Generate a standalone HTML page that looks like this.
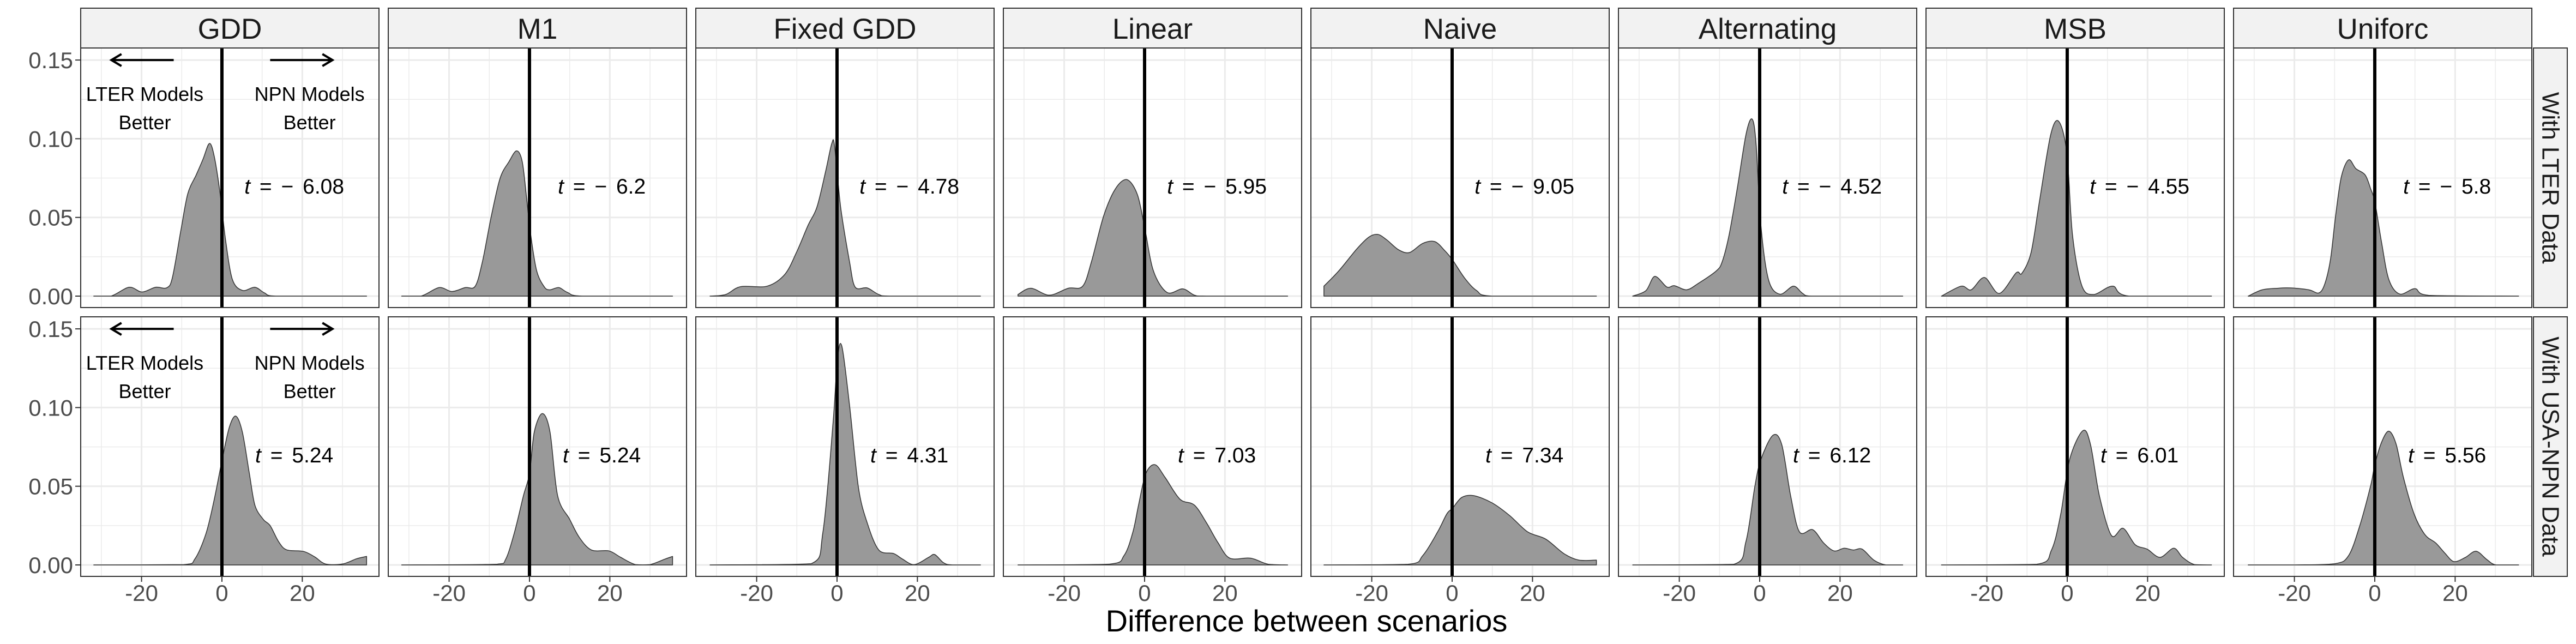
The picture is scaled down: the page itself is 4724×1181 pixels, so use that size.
<!DOCTYPE html>
<html><head><meta charset="utf-8"><style>
html,body{margin:0;padding:0;background:#fff;}
svg{display:block;font-family:"Liberation Sans",Arial,sans-serif;}
</style></head><body>
<svg id="chart" width="4724" height="1181" viewBox="0 0 4724 1181" xmlns="http://www.w3.org/2000/svg"></svg>
<script>
// ---- data ----
const models = ["GDD","M1","Fixed GDD","Linear","Naive","Alternating","MSB","Uniforc"];
const rowLabels = ["With LTER Data","With USA-NPN Data"];
const tLabelsLter = ["t = \u2212 6.08","t = \u2212 6.2","t = \u2212 4.78","t = \u2212 5.95","t = \u2212 9.05","t = \u2212 4.52","t = \u2212 4.55","t = \u2212 5.8"];
const tLabelsNpn = ["t = 5.24","t = 5.24","t = 4.31","t = 7.03","t = 7.34","t = 6.12","t = 6.01","t = 5.56"];
const xTicks = [-20,0,20];
const xTickLabels = ["-20","0","20"];
const xMinor = [-30,-10,10,30];
const yTicks = [0,0.05,0.10,0.15];
const yTickLabels = ["0.00","0.05","0.10","0.15"];
const yMinor = [0.025,0.075,0.125];

// row 1 (LTER)
const gddLterX = [-31.9,-27.6,-23.1,-19.9,-16.5,-13.7,-12.3,-10.2,-8.5,-6.4,-4.7,-3.1,-1.9,-0.5,0.9,2.6,5.1,8.2,10.6,13.4,36];
const gddLterY = [0,0,0.0056,0.0026,0.0056,0.0053,0.012,0.042,0.065,0.077,0.087,0.097,0.0886,0.066,0.0357,0.0106,0.0036,0.0056,0.002,0,0];
const m1LterX = [-31.8,-27,-22.5,-19.3,-16,-13.5,-11.7,-9.5,-7.3,-5.1,-3.2,-1.8,-0.7,0.3,1.8,3.7,5.1,7.3,9.5,13.2,35.6];
const m1LterY = [0,0,0.0054,0.0029,0.0054,0.0063,0.022,0.0508,0.075,0.0854,0.0923,0.0854,0.062,0.039,0.016,0.0058,0.004,0.0054,0.0023,0,0];
const fixedLterX = [-31.6,-27.7,-24,-17.4,-13,-10.1,-7.2,-5,-2.8,-1.3,-0.6,0.9,3.1,4.5,7.5,10.4,13.3,35.7];
const fixedLterY = [0,0.001,0.006,0.0063,0.0138,0.0277,0.045,0.0565,0.0796,0.097,0.095,0.0565,0.022,0.0058,0.0052,0.001,0,0];
const linearLterX = [-31.5,-28.3,-23.7,-19,-15.4,-13.2,-10.2,-7.3,-4.4,-1.8,0,2.2,5.6,9.5,12.4,15.4,35.6];
const linearLterY = [0.001,0.005,0.0006,0.005,0.0063,0.022,0.0508,0.068,0.074,0.0646,0.0438,0.016,0.0023,0.0046,0.0006,0,0];
const naiveLterX = [-31.9,-28.2,-23.7,-20.7,-18.5,-16.3,-13.3,-10.6,-7.3,-4.3,-1.8,0.1,3.1,6.1,9.9,35.9];
const naiveLterY = [0.0063,0.016,0.030,0.0375,0.0392,0.0358,0.0294,0.0277,0.0335,0.0346,0.0288,0.023,0.0115,0.0035,0,0];
const altLterX = [-31.6,-28.3,-26.1,-23.1,-21.2,-18.2,-15.3,-10.8,-9.3,-7.6,-5.6,-3.4,-1.9,-0.9,0.3,2.2,5,8.4,10.7,12.9,35.6];
const altLterY = [0,0.0035,0.0125,0.0058,0.0066,0.004,0.008,0.016,0.022,0.039,0.068,0.1027,0.1125,0.097,0.045,0.0104,0.0012,0.0063,0.0017,0,0];
const msbLterX = [-31.3,-26.4,-23.9,-20.6,-16.9,-12.7,-11.3,-9,-6.8,-4.1,-2.1,-0.1,1.3,3.6,6.5,11.3,15.4,35.9];
const msbLterY = [0,0.0063,0.004,0.0118,0.0017,0.0148,0.0144,0.0277,0.062,0.1027,0.111,0.0911,0.039,0.0069,0.001,0.0063,0,0];
const uniLterX = [-31.5,-28,-24,-21,-16.4,-13.9,-12.4,-11,-9.7,-8.3,-6.5,-4.7,-2.4,-1,0,1.7,3.5,6.2,10,13.4,35.8];
const uniLterY = [0,0.004,0.005,0.0052,0.004,0.002,0.008,0.0236,0.052,0.076,0.0866,0.081,0.077,0.068,0.060,0.034,0.0105,0.0013,0.0047,0.0005,0];

// row 2 (USA-NPN)
const gddNpnX = [-31.9,-9.5,-6.7,-3.96,-1.9,0.2,1.9,3.5,5.1,6.8,8.2,10.3,12,14.1,16.1,20.3,23.1,25.8,30,33.5,36];
const gddNpnY = [0,0.0002,0.0039,0.020,0.0418,0.0688,0.088,0.0945,0.0842,0.0585,0.038,0.0289,0.025,0.0148,0.0096,0.0086,0.0051,0.0006,0.0006,0.0039,0.0054];
const m1NpnX = [-31.8,-8,-5.9,-3.7,-1.5,0,1.2,3.2,5.1,7,10,12.4,15.4,19.8,22.7,26.4,30,33.7,35.6];
const m1NpnY = [0,0.0005,0.0037,0.021,0.044,0.058,0.0845,0.0962,0.0845,0.044,0.029,0.0175,0.0095,0.0089,0.0048,0.0002,0.0002,0.0037,0.0054];
const fixedNpnX = [-31.6,-6.4,-3.5,-1,0.1,1.2,3.1,5.3,7.5,10.4,14.1,16.3,19.2,22.8,24.3,26.5,28.7,35.7];
const fixedNpnY = [0,0.0008,0.021,0.09,0.1306,0.139,0.1018,0.0498,0.0268,0.0095,0.0072,0.0037,0.0002,0.0048,0.0066,0.0014,0,0];
const linearNpnX = [-31.5,-8.8,-5.1,-2.9,-1.5,0.3,2.6,5.1,8.8,12.4,15.4,18.3,21.2,26.4,30.7,35.6];
const linearNpnY = [0,0.0005,0.006,0.021,0.038,0.058,0.0637,0.0556,0.0418,0.038,0.0268,0.014,0.0043,0.0043,0.0005,0];
const naiveNpnX = [-31.9,-11,-7.3,-3.6,-1.3,0.1,2.4,5.4,9.9,14.3,18.8,23.3,27.8,31.5,35.9];
const naiveNpnY = [0,0.0004,0.006,0.021,0.0325,0.036,0.0429,0.044,0.0395,0.0314,0.021,0.0164,0.0072,0.0031,0.0031];
const altNpnX = [-31.6,-6.4,-3.4,-1.2,0.3,3.3,5.5,7.7,9.9,13.2,15.9,18.5,21,23.3,25.5,28.4,31.4,35.6];
const altNpnY = [0,0.0004,0.015,0.0498,0.067,0.0824,0.0764,0.044,0.021,0.0224,0.014,0.0089,0.0106,0.0095,0.01,0.0031,0,0];
const msbNpnX = [-31.3,-7.6,-3.9,-1.6,0.6,3.9,5.8,8,11,13.9,16.9,19.9,23.1,26.5,28.7,31.7,35.9];
const msbNpnY = [0,0.0004,0.0095,0.0325,0.067,0.0853,0.0764,0.044,0.0187,0.0233,0.0129,0.01,0.0048,0.0106,0.0048,0.0002,0];
const uniNpnX = [-31.5,-20,-9.9,-6.5,-3.8,-1,0,1.7,3.5,5.3,7.1,9.8,12.5,15.2,17.5,19.7,22.5,25.2,27.9,30.2,35.8];
const uniNpnY = [0,0,0.0008,0.006,0.0244,0.0506,0.0637,0.078,0.085,0.0769,0.0559,0.0323,0.0192,0.0139,0.0073,0.0021,0.0047,0.0087,0.0034,0,0];

const rowsX = [[gddLterX,m1LterX,fixedLterX,linearLterX,naiveLterX,altLterX,msbLterX,uniLterX],
               [gddNpnX,m1NpnX,fixedNpnX,linearNpnX,naiveNpnX,altNpnX,msbNpnX,uniNpnX]];
const rowsY = [[gddLterY,m1LterY,fixedLterY,linearLterY,naiveLterY,altLterY,msbLterY,uniLterY],
               [gddNpnY,m1NpnY,fixedNpnY,linearNpnY,naiveNpnY,altNpnY,msbNpnY,uniNpnY]];
const tLabels = [tLabelsLter, tLabelsNpn];

// ---- layout ----
const NS = "http://www.w3.org/2000/svg";
const svg = document.getElementById("chart");
const P0 = 148, PSTEP = 564, PW = 547;
const ROWTOP = [88, 581], PH = 476;
const XMIN = -35.14, XPX = 7.37;
const YZERO = 455, YPX = 2886;
function xs(i, v){ return P0 + PSTEP*i + (v - XMIN)*XPX; }
function ys(r, v){ return ROWTOP[r] + YZERO - v*YPX; }
function mk(tag, attrs, parent){
  const e = document.createElementNS(NS, tag);
  for (const k in attrs) e.setAttribute(k, attrs[k]);
  (parent||svg).appendChild(e);
  return e;
}
function smoothPath(pts, base){
  // Catmull-Rom to Bezier, control points clamped to baseline
  let d = `L${pts[0][0].toFixed(1)},${pts[0][1].toFixed(1)}`;
  for (let k=0;k<pts.length-1;k++){
    const p0 = pts[Math.max(0,k-1)], p1 = pts[k], p2 = pts[k+1], p3 = pts[Math.min(pts.length-1,k+2)];
    const t = 0.16;
    let c1x = p1[0] + (p2[0]-p0[0])*t, c1y = p1[1] + (p2[1]-p0[1])*t;
    let c2x = p2[0] - (p3[0]-p1[0])*t, c2y = p2[1] - (p3[1]-p1[1])*t;
    c1x = Math.min(Math.max(c1x,p1[0]),p2[0]); c2x = Math.min(Math.max(c2x,p1[0]),p2[0]);
    c1y = Math.min(c1y, base); c2y = Math.min(c2y, base);
    d += ` C${c1x.toFixed(1)},${c1y.toFixed(1)} ${c2x.toFixed(1)},${c2y.toFixed(1)} ${p2[0].toFixed(1)},${p2[1].toFixed(1)}`;
  }
  return d;
}

// strips on top
models.forEach((m,i)=>{
  const g = mk("g",{});
  
  
  mk("rect",{x:P0+PSTEP*i, y:15, width:PW, height:73, fill:"#f2f2f2", stroke:"#333", "stroke-width":2}, g);
  const t = mk("text",{x:P0+PSTEP*i+PW/2, y:71, "text-anchor":"middle", "font-size":53, fill:"#1a1a1a"}, g);
  t.textContent = m;
});
// right strips
rowLabels.forEach((lab,r)=>{
  const g = mk("g",{});
  
  
  mk("rect",{x:4646, y:ROWTOP[r], width:62, height:PH, fill:"#f2f2f2", stroke:"#333", "stroke-width":2}, g);
  const cx = 4677, cy = ROWTOP[r]+PH/2;
  const t = mk("text",{x:cx, y:cy, "text-anchor":"middle", "dominant-baseline":"central", "font-size":44, fill:"#1a1a1a", transform:`rotate(90 ${cx} ${cy})`}, g);
  t.textContent = lab;
});

for (let r=0;r<2;r++){
  for (let i=0;i<8;i++){
    const g = mk("g",{});
    
    
    const L = P0+PSTEP*i, T = ROWTOP[r];
    mk("rect",{x:L,y:T,width:PW,height:PH,fill:"#fff"},g);
    // grid
    yMinor.forEach(v=>mk("line",{x1:L,x2:L+PW,y1:ys(r,v),y2:ys(r,v),stroke:"#ebebeb","stroke-width":1.5},g));
    xMinor.forEach(v=>mk("line",{x1:xs(i,v),x2:xs(i,v),y1:T,y2:T+PH,stroke:"#ebebeb","stroke-width":1.5},g));
    yTicks.forEach(v=>mk("line",{x1:L,x2:L+PW,y1:ys(r,v),y2:ys(r,v),stroke:"#ebebeb","stroke-width":3},g));
    xTicks.forEach(v=>mk("line",{x1:xs(i,v),x2:xs(i,v),y1:T,y2:T+PH,stroke:"#ebebeb","stroke-width":3},g));
    // density
    const X = rowsX[r][i], Y = rowsY[r][i];
    const base = ys(r,0);
    const pts = X.map((xv,k)=>[xs(i,xv), ys(r,Y[k])]);
    let d = `M${pts[0][0].toFixed(1)},${base.toFixed(1)} ` + smoothPath(pts, base);
    d += ` L${pts[pts.length-1][0].toFixed(1)},${base.toFixed(1)} Z`;
    const p = mk("path",{d:d, fill:"#999999", stroke:"#333", "stroke-width":1.5, "stroke-linejoin":"round"}, g);
    
    
    // zero line
    mk("line",{x1:xs(i,0),x2:xs(i,0),y1:T,y2:T+PH,stroke:"#000","stroke-width":6},g);
    // t label
    const tl = mk("text",{x:xs(i,18), y:ys(r,0.07)+14, "text-anchor":"middle", "font-size":39, fill:"#000", "word-spacing":6}, g);
    
    
    const parts = tLabels[r][i].split(" ");
    const ti = mk("tspan",{"font-style":"italic"}, tl); ti.textContent = parts[0];
    const rest = mk("tspan",{}, tl); rest.textContent = " " + parts.slice(1).join(" ");
    // border
    mk("rect",{x:L,y:T,width:PW,height:PH,fill:"none",stroke:"#333","stroke-width":2},g);

    if (i===0){
      const a = mk("g",{},g);
      
      
      const ay = ys(r,0.15);
      mk("line",{x1:xs(i,-12),x2:xs(i,-27.3),y1:ay,y2:ay,stroke:"#000","stroke-width":4},a);
      mk("polyline",{points:`${xs(i,-25)},${ay-11} ${xs(i,-27.5)},${ay} ${xs(i,-25)},${ay+11}`,fill:"none",stroke:"#000","stroke-width":4},a);
      mk("line",{x1:xs(i,12),x2:xs(i,27.3),y1:ay,y2:ay,stroke:"#000","stroke-width":4},a);
      mk("polyline",{points:`${xs(i,25)},${ay-11} ${xs(i,27.5)},${ay} ${xs(i,25)},${ay+11}`,fill:"none",stroke:"#000","stroke-width":4},a);
      [["LTER Models",-19.2],["NPN Models",21.8]].forEach(([s,xv])=>{
        const t1 = mk("text",{x:xs(i,xv),y:T+97,"text-anchor":"middle","font-size":36,fill:"#000"},a); t1.textContent=s;
        const t2 = mk("text",{x:xs(i,xv),y:T+149,"text-anchor":"middle","font-size":36,fill:"#000"},a); t2.textContent="Better";
      });
      yTicks.forEach((v,k)=>{
        mk("line",{x1:L-10,x2:L,y1:ys(r,v),y2:ys(r,v),stroke:"#333","stroke-width":2},svg);
        const yt = mk("text",{x:L-14,y:ys(r,v)+15,"text-anchor":"end","font-size":42,fill:"#4d4d4d"},svg);
        
        
        yt.textContent = yTickLabels[k];
      });
    }
    if (r===1){
      xTicks.forEach((v,k)=>{
        mk("line",{x1:xs(i,v),x2:xs(i,v),y1:T+PH,y2:T+PH+10,stroke:"#333","stroke-width":2},svg);
        const xt = mk("text",{x:xs(i,v),y:1102,"text-anchor":"middle","font-size":42,fill:"#4d4d4d"},svg);
        
        
        xt.textContent = xTickLabels[k];
      });
    }
  }
}
const xt = mk("text",{x:2396,y:1158,"text-anchor":"middle","font-size":56,fill:"#000"});


xt.textContent = "Difference between scenarios";
</script>
</body></html>
